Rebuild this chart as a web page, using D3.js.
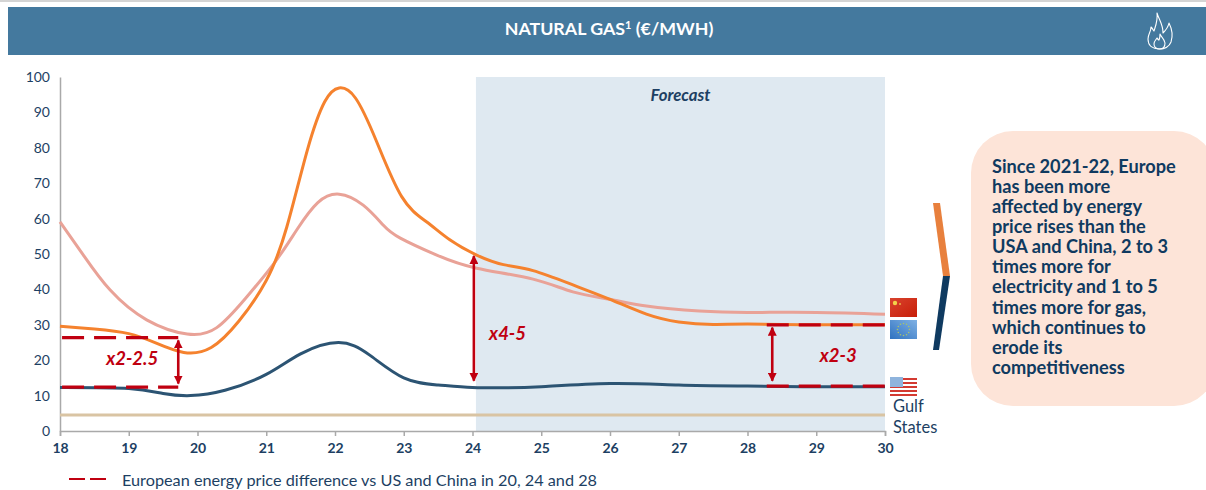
<!DOCTYPE html>
<html>
<head>
<meta charset="utf-8">
<script src="https://cdn.jsdelivr.net/npm/d3@7"></script>
<style>
  html, body { margin: 0; padding: 0; background: #fff; }
  svg, .y-axis, .x-axis { display: block; font-family: Lato, "Open Sans", sans-serif; }
  .y-axis text { font-size: 14px; fill: #1d3f63; }
  .x-axis text { font-size: 14px; font-weight: 700; fill: #1d3f63; }
  .y-axis path, .x-axis path, .x-axis line { stroke: #a9a9a9; stroke-width: 1.5; }
</style>
</head>
<body>
<div id="chart"></div>
<script>
// values
const yearTicks = [18, 19, 20, 21, 22, 23, 24, 25, 26, 27, 28, 29, 30];
const valueTicks = [0, 10, 20, 30, 40, 50, 60, 70, 80, 90, 100];

const europe = [[18, 29.6], [18.5, 28.8], [19, 27.5], [19.4, 24.8], [19.8, 22.2], [20.2, 23.6], [20.6, 31], [21, 42.5], [21.3, 57.7], [21.6, 79.5], [21.85, 93], [22.06, 96.9], [22.3, 94], [22.6, 82], [22.97, 66.2], [23.33, 59.1], [23.67, 54], [24.06, 49.7], [24.45, 47], [24.88, 45.3], [25.47, 41.2], [26, 37.2], [26.53, 33], [27, 30.8], [27.5, 30.1], [28, 30.2], [29, 30], [30, 30]];
const china = [[18, 59.1], [18.34, 49.7], [18.73, 39.8], [19.26, 31.4], [19.85, 27.4], [20.28, 29.2], [20.7, 37.5], [21.13, 47.8], [21.45, 57], [21.75, 64.5], [22.06, 66.9], [22.41, 63.8], [22.7, 58.2], [22.95, 54.5], [23.48, 49.7], [24.06, 46], [24.88, 42.9], [25.46, 39.3], [26, 37.2], [26.53, 35.3], [27.3, 33.9], [28, 33.5], [29, 33.5], [30, 33]];
const usa = [[18, 12.3], [19, 12], [19.5, 10.6], [19.9, 10], [20.4, 11.5], [21, 16], [21.5, 21.8], [22.05, 25], [22.5, 21.5], [23, 15], [23.5, 13], [24, 12.3], [24.5, 12.2], [25, 12.5], [26, 13.4], [27, 13], [28, 12.7], [29, 12.5], [30, 12.5]];
const gulf = [[18, 4.5], [30, 4.5]];

const forecastSpan = [24.05, 30];
const gapLines = [
  { x0: 18.03, x1: 19.72, v: 26.4 },
  { x0: 18.03, x1: 19.72, v: 12.4 },
  { x0: 28.28, x1: 30, v: 30 },
  { x0: 28.28, x1: 30, v: 12.7 }
];
const gapArrows = [
  { x: 19.72, from: 25.6, to: 13.4, label: "x2-2.5", lx: 19.05, lv: 18.6 },
  { x: 24.02, from: 49.4, to: 14.2, label: "x4-5", lx: 24.51, lv: 25.7 },
  { x: 28.36, from: 29.2, to: 14.2, label: "x2-3", lx: 29.32, lv: 19.4 }
];
const noteLines = ["Since 2021-22, Europe", "has been more", "affected by energy", "price rises than the", "USA and China, 2 to 3", "times more for", "electricity and 1 to 5", "times more for gas,", "which continues to", "erode its", "competitiveness"];

const width = 1206, height = 490,
  margin = ({top: 77, right: 321, bottom: 59, left: 60});

const navy = "#1d3f63", red = "#c00010";

const svg = d3.select("#chart")
  .append("svg")
  .attr("width", width)
  .attr("height", height)
  .attr("viewBox", [0, 0, width, height]);

const x = d3.scaleLinear().domain([18, 30]).range([margin.left, width - margin.right]);
const y = d3.scaleLinear().domain([0, 100]).range([height - margin.bottom, margin.top]);

// header band
svg.append("rect").attr("x", 0).attr("y", 0).attr("width", width).attr("height", 2).attr("fill", "#d4d4d4");
svg.append("rect").attr("x", 8).attr("y", 7).attr("width", width - 8).attr("height", 48).attr("fill", "#44799e");
const title = svg.append("text")
  .attr("x", 609).attr("y", 35)
  .attr("text-anchor", "middle")
  .attr("fill", "#fff")
  .attr("font-weight", 700)
  .attr("font-size", 17.8);
title.append("tspan").text("NATURAL GAS");
title.append("tspan").attr("font-size", 11).attr("dy", -6).text("1");
title.append("tspan").attr("dy", 6).text(" (€/MWH)");

// flame icon
const flame = svg.append("g").attr("transform", "translate(1148,13)")
  .attr("fill", "none").attr("stroke", "#fff").attr("stroke-width", 1.1).attr("stroke-linejoin", "round");
flame.append("path").attr("d", "M9 0 C11 7 15 11 15 20 C17 18 20 15 21 10 C24 16 25 23 23 29 C21 34 17 36 11 36 C5 36 0 33 0 26 C0 21 3 19 3 14 C5 16 5 17 6 18 C8 12 10 7 9 0 Z");
flame.append("path").attr("d", "M12 21 C13 24 16 25 17 30 C17 34 15 36 12 36 C8 36 6 34 6 31 C6 28 8 27 9 25 C10 26 10 27 11 27 C12 25 12 23 12 21 Z");

// forecast band
svg.append("rect")
  .attr("x", x(forecastSpan[0])).attr("y", y(100))
  .attr("width", x(forecastSpan[1]) - x(forecastSpan[0]))
  .attr("height", y(0) - y(100))
  .attr("fill", "#dfe9f1");
svg.append("text")
  .attr("x", 680.5).attr("y", 101)
  .attr("text-anchor", "middle")
  .attr("font-size", 16.8).attr("font-weight", 700).attr("font-style", "italic")
  .attr("fill", navy)
  .text("Forecast");

// axes
svg.append("g")
  .attr("class", "y-axis")
  .attr("transform", `translate(${margin.left},0)`)
  .call(d3.axisLeft(y).tickValues(valueTicks).tickSize(0).tickPadding(10).tickSizeOuter(0))
  .selectAll("line").remove();
svg.append("g")
  .attr("class", "x-axis")
  .attr("transform", `translate(0,${y(0)})`)
  .call(d3.axisBottom(x).tickValues(yearTicks).tickSize(5).tickSizeOuter(5).tickPadding(7).tickFormat(d => d));

const line = d3.line()
  .x(d => x(d[0]))
  .y(d => y(d[1]))
  .curve(d3.curveNatural);

const series = [[gulf, "#d9c4a3", 3], [china, "#e9a297", 3], [europe, "#f5822e", 3], [usa, "#2c5473", 3]];
svg.selectAll(".series")
  .data(series)
  .join("path")
  .attr("class", "series")
  .attr("d", d => line(d[0]))
  .attr("fill", "none")
  .attr("stroke", d => d[1])
  .attr("stroke-width", d => d[2]);

// red dashed gaps
svg.selectAll(".gap")
  .data(gapLines)
  .join("line")
  .attr("class", "gap")
  .attr("x1", d => x(d.x0)).attr("x2", d => x(d.x1))
  .attr("y1", d => y(d.v)).attr("y2", d => y(d.v))
  .attr("stroke", red).attr("stroke-width", 3.2)
  .attr("stroke-dasharray", "22,10");

svg.append("defs").append("marker")
  .attr("id", "head")
  .attr("viewBox", "0 0 9 9")
  .attr("refX", 8).attr("refY", 4.5)
  .attr("markerWidth", 9).attr("markerHeight", 9)
  .attr("markerUnits", "userSpaceOnUse")
  .attr("orient", "auto-start-reverse")
  .append("path").attr("d", "M0,0 L9,4.5 L0,9 Z").attr("fill", red);

svg.selectAll(".gap-arrow")
  .data(gapArrows)
  .join("line")
  .attr("class", "gap-arrow")
  .attr("x1", d => x(d.x)).attr("x2", d => x(d.x))
  .attr("y1", d => y(d.from)).attr("y2", d => y(d.to))
  .attr("stroke", red).attr("stroke-width", 2.6)
  .attr("marker-start", "url(#head)")
  .attr("marker-end", "url(#head)");

svg.selectAll(".gap-label")
  .data(gapArrows)
  .join("text")
  .attr("class", "gap-label")
  .attr("x", d => x(d.lx)).attr("y", d => y(d.lv))
  .attr("text-anchor", "middle")
  .attr("font-size", 18.5).attr("font-weight", 700).attr("font-style", "italic")
  .attr("fill", red)
  .text(d => d.label);

// flags at the right end of the axis
const flags = svg.append("g").attr("transform", "translate(890,298)");
const shine = svg.select("defs").append("linearGradient").attr("id", "euBlue").attr("x1", 0).attr("y1", 1).attr("x2", 1).attr("y2", 0);
shine.append("stop").attr("offset", 0).attr("stop-color", "#2f72c0");
shine.append("stop").attr("offset", 1).attr("stop-color", "#7fb1e4");
const cn = svg.select("defs").append("linearGradient").attr("id", "cnRed").attr("x1", 0).attr("y1", 0).attr("x2", 1).attr("y2", 1);
cn.append("stop").attr("offset", 0).attr("stop-color", "#d8432e");
cn.append("stop").attr("offset", 1).attr("stop-color", "#c81e08");

flags.append("rect").attr("width", 27).attr("height", 19).attr("fill", "url(#cnRed)");
flags.append("circle").attr("cx", 5).attr("cy", 5).attr("r", 2.2).attr("fill", "#f2d24a");
flags.append("circle").attr("cx", 10).attr("cy", 6).attr("r", 1).attr("fill", "#e8b04a");

flags.append("rect").attr("y", 22).attr("width", 27).attr("height", 19).attr("fill", "url(#euBlue)");
d3.range(12).forEach(i => {
  const a = i * Math.PI / 6;
  flags.append("circle")
    .attr("cx", 13.5 + 6 * Math.cos(a)).attr("cy", 31.5 + 6 * Math.sin(a))
    .attr("r", 0.8).attr("fill", "#a9c36b");
});

flags.append("rect").attr("y", 79).attr("width", 27).attr("height", 19).attr("fill", "#fff");
d3.range(5).forEach(i => {
  flags.append("rect").attr("y", 80 + i * 4).attr("width", 27).attr("height", 2).attr("fill", "#d33a32");
});
flags.append("rect").attr("y", 79).attr("width", 13).attr("height", 10).attr("fill", "#8fb4dd");

svg.append("text")
  .attr("x", 893).attr("y", 412)
  .attr("font-size", 16.5).attr("fill", navy)
  .text("Gulf");
svg.append("text")
  .attr("x", 893).attr("y", 433)
  .attr("font-size", 16.5).attr("fill", navy)
  .text("States");

// chevron
svg.append("path").attr("d", "M933,203 L940,203 L950,276 L943,276 Z").attr("fill", "#e8803d");
svg.append("path").attr("d", "M943,276 L950,276 L939,350 L933,350 Z").attr("fill", "#0f3a60");

// note box
svg.append("rect")
  .attr("x", 971).attr("y", 131)
  .attr("width", 245).attr("height", 275)
  .attr("rx", 42)
  .attr("fill", "#fde4d8");
svg.selectAll(".note")
  .data(noteLines)
  .join("text")
  .attr("class", "note")
  .attr("x", 992)
  .attr("y", (d, i) => 172.5 + i * 20.15)
  .attr("font-size", 18.2).attr("font-weight", 700)
  .attr("fill", "#0f3a60")
  .text(d => d);

// legend
svg.append("line")
  .attr("x1", 69).attr("x2", 106).attr("y1", 479).attr("y2", 479)
  .attr("stroke", red).attr("stroke-width", 2)
  .attr("stroke-dasharray", "16,5");
svg.append("text")
  .attr("x", 122).attr("y", 486)
  .attr("font-size", 16.25).attr("fill", navy)
  .text("European energy price difference vs US and China in 20, 24 and 28");
</script>
</body>
</html>
